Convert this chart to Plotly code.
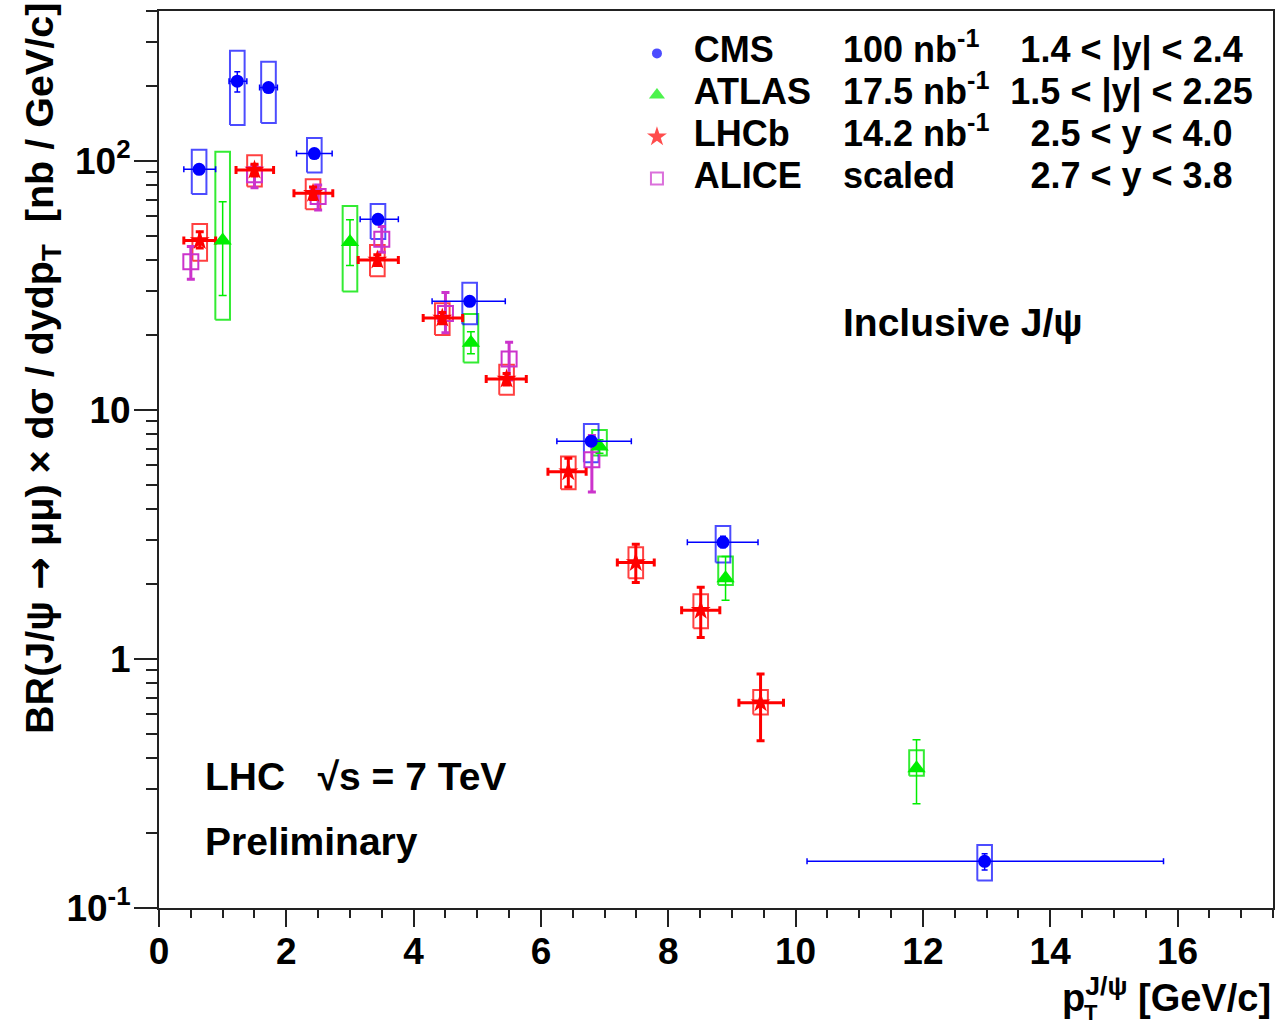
import math
import plotly.graph_objects as go

# ---------------- data: inclusive J/psi cross sections, pp at 7 TeV ----------------
# CMS, 1.4 < |y| < 2.4
cms_pt = [0.63, 1.23, 1.72, 2.44, 3.44, 4.88, 6.79, 8.86, 12.97]
cms_pt_lo = [0.39, 1.10, 1.58, 2.16, 3.16, 4.29, 6.25, 8.30, 10.18]
cms_pt_hi = [0.89, 1.38, 1.86, 2.72, 3.76, 5.44, 7.42, 9.41, 15.78]
cms_val = [92.5, 209, 197, 107, 58.3, 27.3, 7.49, 2.94, 0.154]
cms_stat_lo = [89.5, 189, 190, 104, 56.5, 26.2, 7.2, 2.80, 0.142]
cms_stat_hi = [95.5, 228, 204, 110, 60.1, 28.4, 7.8, 3.11, 0.165]
cms_sys_lo = [73.7, 139.5, 142, 89.8, 48.6, 22.1, 6.16, 2.44, 0.129]
cms_sys_hi = [111, 277, 250, 123.7, 67.2, 32.4, 8.78, 3.42, 0.179]

# ATLAS, 1.5 < |y| < 2.25
atlas_pt = [1.0, 3.0, 4.9, 6.92, 8.9, 11.9]
atlas_val = [47.9, 47.2, 18.6, 7.13, 2.11, 0.364]
atlas_stat_lo = [28.8, 38.0, 16.8, 6.7, 1.72, 0.262]
atlas_stat_hi = [68.6, 58.0, 20.6, 7.6, 2.58, 0.474]
atlas_sys_lo = [23.0, 29.9, 15.5, 6.57, 1.98, 0.34]
atlas_sys_hi = [108.9, 65.9, 24.3, 8.3, 2.58, 0.43]

# LHCb, 2.5 < y < 4.0
lhcb_pt = [0.64, 1.50, 2.42, 3.43, 4.45, 5.46, 6.43, 7.49, 8.51, 9.45]
lhcb_pt_lo = [0.39, 1.21, 2.12, 3.13, 4.15, 5.14, 6.11, 7.20, 8.21, 9.11]
lhcb_pt_hi = [0.89, 1.80, 2.73, 3.76, 4.77, 5.77, 6.71, 7.78, 8.81, 9.81]
lhcb_val = [47.9, 92, 74.1, 40, 23.4, 13.3, 5.65, 2.44, 1.57, 0.667]
lhcb_stat_lo = [44.7, 87, 70, 38, 22.2, 12.6, 4.9, 2.03, 1.22, 0.47]
lhcb_stat_hi = [51.9, 97, 78.5, 42, 24.6, 14.0, 6.4, 2.89, 1.94, 0.87]
lhcb_sys_lo = [39.7, 78.9, 64, 34.4, 20.0, 11.5, 4.8, 2.11, 1.33, 0.598]
lhcb_sys_hi = [55.8, 105.4, 84.4, 46, 26.8, 15.2, 6.5, 2.81, 1.82, 0.75]

# ALICE (scaled), 2.7 < y < 3.8
alice_pt = [0.5, 1.5, 2.5, 3.5, 4.5, 5.5, 6.8]
alice_val = [39.4, 88, 71.9, 48.5, 24.4, 16.0, 6.31]
alice_stat_lo = [33.5, 78, 63.5, 43, 20.4, 13.2, 4.68]
alice_stat_hi = [45.3, 96, 80, 54.5, 29.6, 18.7, 7.9]

# legend table
leg_names = ["CMS", "ATLAS", "LHCb", "ALICE"]
leg_lumi = ["100 nb<sup>-1</sup>", "17.5 nb<sup>-1</sup>", "14.2 nb<sup>-1</sup>", "scaled"]
leg_rap = ["1.4 < |y| < 2.4", "1.5 < |y| < 2.25", "2.5 < y < 4.0", "2.7 < y < 3.8"]

# axis ticks
y_tickvals = [0.1, 1, 10, 100]
y_ticktext = ["10<sup>-1</sup>", "1", "10", "10<sup>2</sup>"]

# ---------------- styling ----------------
FONT = "Liberation Sans, Arial, Helvetica, sans-serif"
BLUE = "#0000ff"
GREEN = "#00ee00"
RED = "#ff0000"
MAGENTA = "#cc33cc"
BOX_HW = 0.115  # half width of systematic boxes in GeV/c


def diff(a, b):
    return [x - y for x, y in zip(a, b)]


def box_outline(x, lo, hi, hw):
    xs, ys = [], []
    for xc, l, h in zip(x, lo, hi):
        xs += [xc - hw, xc + hw, xc + hw, xc - hw, xc - hw, None]
        ys += [l, l, h, h, l, None]
    return xs, ys


fig = go.Figure()

# systematic boxes
for px, lo, hi, col, w in [
    (atlas_pt, atlas_sys_lo, atlas_sys_hi, "rgba(0,230,0,0.8)", 2),
    (lhcb_pt, lhcb_sys_lo, lhcb_sys_hi, "rgba(255,0,0,0.75)", 2),
    (cms_pt, cms_sys_lo, cms_sys_hi, "rgba(0,0,255,0.7)", 2),
]:
    bx, by = box_outline(px, lo, hi, BOX_HW)
    fig.add_trace(go.Scatter(x=bx, y=by, mode="lines", line=dict(color=col, width=w),
                             hoverinfo="skip", showlegend=False))

# ALICE
fig.add_trace(go.Scatter(
    x=alice_pt, y=alice_val, mode="markers", showlegend=False,
    marker=dict(symbol="square-open", size=15, color=MAGENTA, line=dict(width=2, color=MAGENTA)),
    error_y=dict(type="data", array=diff(alice_stat_hi, alice_val),
                 arrayminus=diff(alice_val, alice_stat_lo), color=MAGENTA, thickness=3, width=4),
))

# LHCb
fig.add_trace(go.Scatter(
    x=lhcb_pt, y=lhcb_val, mode="markers", showlegend=False,
    marker=dict(symbol="star", size=15, color=RED, line=dict(width=0)),
    error_y=dict(type="data", array=diff(lhcb_stat_hi, lhcb_val),
                 arrayminus=diff(lhcb_val, lhcb_stat_lo), color=RED, thickness=3, width=4),
    error_x=dict(type="data", array=diff(lhcb_pt_hi, lhcb_pt),
                 arrayminus=diff(lhcb_pt, lhcb_pt_lo), color=RED, thickness=3, width=4),
))

# ATLAS
fig.add_trace(go.Scatter(
    x=atlas_pt, y=atlas_val, mode="markers", showlegend=False,
    marker=dict(symbol="triangle-up", size=16, color=GREEN, line=dict(width=0)),
    error_y=dict(type="data", array=diff(atlas_stat_hi, atlas_val),
                 arrayminus=diff(atlas_val, atlas_stat_lo), color=GREEN, thickness=1.5, width=4),
))

# CMS
fig.add_trace(go.Scatter(
    x=cms_pt, y=cms_val, mode="markers", showlegend=False,
    marker=dict(symbol="circle", size=13, color=BLUE, line=dict(width=0)),
    error_y=dict(type="data", array=diff(cms_stat_hi, cms_val),
                 arrayminus=diff(cms_val, cms_stat_lo), color=BLUE, thickness=1.5, width=3),
    error_x=dict(type="data", array=diff(cms_pt_hi, cms_pt),
                 arrayminus=diff(cms_pt, cms_pt_lo), color=BLUE, thickness=1.5, width=3),
))

# ---------------- legend drawn as a small table on its own hidden axes ----------------
leg_symbols = ["circle", "triangle-up", "star", "square-open"]
leg_colors = [BLUE, GREEN, RED, MAGENTA]
leg_sizes = [10, 14, 15, 12]
fig.add_trace(go.Scatter(
    x=[0.447] * 4, y=leg_names, xaxis="x2", yaxis="y2", mode="markers", showlegend=False,
    cliponaxis=False,
    marker=dict(symbol=leg_symbols, color=leg_colors, size=leg_sizes,
                line=dict(width=[0, 0, 0, 2], color=leg_colors)),
))
for col_x, texts, pos in [(0.480, leg_names, "middle right"),
                          (0.614, leg_lumi, "middle right"),
                          (0.873, leg_rap, "middle center")]:
    fig.add_trace(go.Scatter(
        x=[col_x] * 4, y=leg_names, xaxis="x2", yaxis="y2", mode="text", text=texts,
        textposition=pos, showlegend=False, cliponaxis=False,
        textfont=dict(family=FONT, size=36, color="black", weight="bold"),
    ))

AX_LINE = "#222222"
fig.update_layout(
    width=1280, height=1027,
    margin=dict(l=159, r=5, t=11, b=119),
    paper_bgcolor="white", plot_bgcolor="rgba(0,0,0,0)",
    font=dict(family=FONT, color="black"),
    xaxis=dict(
        range=[0, 17.5], showgrid=False, zeroline=False,
        showline=True, linecolor=AX_LINE, linewidth=2, mirror=True,
        tickmode="linear", tick0=0, dtick=2,
        ticks="outside", ticklen=17, tickwidth=1.5, tickcolor=AX_LINE,
        ticklabelstandoff=-7,
        tickfont=dict(family=FONT, size=37, color="black", weight="bold"),
        minor=dict(ticks="outside", ticklen=8, tickwidth=1.5, tickcolor=AX_LINE, dtick=0.5, showgrid=False),
    ),
    yaxis=dict(
        type="log", range=[-1, math.log10(400)], showgrid=False, zeroline=False,
        showline=True, linecolor=AX_LINE, linewidth=2, mirror=True,
        tickmode="array", tickvals=y_tickvals, ticktext=y_ticktext,
        ticks="outside", ticklen=23, tickwidth=1.5, tickcolor=AX_LINE,
        ticklabelstandoff=-4,
        tickfont=dict(family=FONT, size=37, color="black", weight="bold"),
        minor=dict(ticks="outside", ticklen=11, tickwidth=1.5, tickcolor=AX_LINE,
                   tickmode="array",
                   tickvals=[m * 10 ** e for e in (-1, 0, 1) for m in range(2, 10)] + [200, 300, 400],
                   showgrid=False),
    ),
    xaxis2=dict(domain=[0, 1], range=[0, 1], anchor="y2", visible=False, fixedrange=True),
    yaxis2=dict(domain=[0.790, 0.976], anchor="x2", visible=False, type="category",
                categoryorder="array", categoryarray=leg_names, range=[3.5, -0.5],
                autorange=False, fixedrange=True),
)

annotations = [
    dict(text="<b>BR(J/ψ <span style='font-family:DejaVu Sans'>→</span> μμ) × dσ / dydp<sub>T</sub>  [nb / GeV/c]</b>",
         xref="paper", yref="paper", x=-0.106, y=0.602, xanchor="center", yanchor="middle",
         textangle=-90, showarrow=False, font=dict(family=FONT, size=39.5, color="black")),
    dict(text="<b>p<sup>J/ψ</sup> [GeV/c]</b>", xref="paper", yref="paper",
         x=1.0, y=-0.097, xanchor="right", yanchor="middle", showarrow=False,
         font=dict(family=FONT, size=38, color="black")),
    dict(text="<b>T</b>", xref="paper", yref="paper", x=0.837, y=-0.117,
         xanchor="center", yanchor="middle", showarrow=False,
         font=dict(family=FONT, size=22, color="black")),
    dict(text="<b>Inclusive J/ψ</b>", xref="paper", yref="paper", x=0.612, y=0.653,
         xanchor="left", yanchor="middle", showarrow=False,
         font=dict(family=FONT, size=39, color="black")),
    dict(text="<b>LHC   √s = 7 TeV</b>", xref="paper", yref="paper", x=0.0394, y=0.147,
         xanchor="left", yanchor="middle", showarrow=False,
         font=dict(family=FONT, size=39, color="black")),
    dict(text="<b>Preliminary</b>", xref="paper", yref="paper", x=0.0394, y=0.0736,
         xanchor="left", yanchor="middle", showarrow=False,
         font=dict(family=FONT, size=39, color="black")),
]
fig.update_layout(annotations=annotations)

fig.write_html("out.html")
